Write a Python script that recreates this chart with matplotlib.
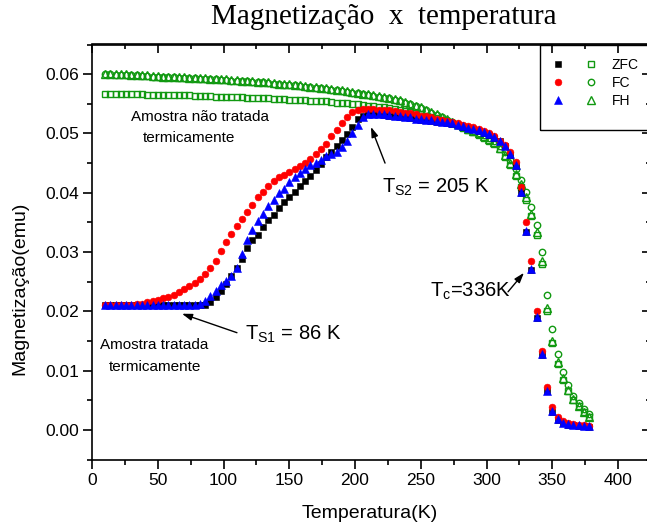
import matplotlib
matplotlib.use('Agg')
import matplotlib.pyplot as plt
from matplotlib.legend_handler import HandlerTuple
from matplotlib.patches import Rectangle
from matplotlib.ticker import MultipleLocator

plt.rcParams['font.family'] = ['Liberation Sans', 'DejaVu Sans']
plt.rcParams['mathtext.fontset'] = 'custom'
plt.rcParams['mathtext.rm'] = 'Liberation Sans'
plt.rcParams['mathtext.it'] = 'Liberation Sans:italic'
plt.rcParams['mathtext.bf'] = 'Liberation Sans:bold'

# ---------------- data ----------------
temperature = [10, 14, 18, 22, 26, 30, 34, 38, 42, 46,
               50, 54, 58, 62, 66, 70, 74, 78, 82, 86,
               90, 94, 98, 102, 106, 110, 114, 118, 122, 126,
               130, 134, 138, 142, 146, 150, 154, 158, 162, 166,
               170, 174, 178, 182, 186, 190, 194, 198, 202, 206,
               210, 214, 218, 222, 226, 230, 234, 238, 242, 246,
               250, 254, 258, 262, 266, 270, 274, 278, 282, 286,
               290, 294, 298, 302, 306, 310, 314, 318, 322, 326,
               330, 334, 338, 342, 346, 350, 354, 358, 362, 366,
               370, 374, 378]

# treated sample (filled symbols)
zfc_treated = [0.0210, 0.0210, 0.0210, 0.0210, 0.0210, 0.0210, 0.0210, 0.0210, 0.0210, 0.0210,
               0.0210, 0.0210, 0.0210, 0.0210, 0.0210, 0.0210, 0.0210, 0.0210, 0.0210, 0.0211,
               0.0215, 0.0224, 0.0234, 0.0246, 0.0260, 0.0273, 0.0288, 0.0306, 0.0321, 0.0329,
               0.0342, 0.0354, 0.0362, 0.0374, 0.0384, 0.0392, 0.0402, 0.0412, 0.0420, 0.0428,
               0.0438, 0.0449, 0.0460, 0.0469, 0.0479, 0.0489, 0.0499, 0.0511, 0.0524, 0.0530,
               0.0532, 0.0532, 0.0532, 0.0531, 0.0530, 0.0529, 0.0528, 0.0527, 0.0526, 0.0524,
               0.0523, 0.0522, 0.0521, 0.0520, 0.0519, 0.0518, 0.0516, 0.0514, 0.0511, 0.0509,
               0.0507, 0.0504, 0.0501, 0.0498, 0.0493, 0.0487, 0.0478, 0.0464, 0.0445, 0.0400,
               0.0333, 0.0270, 0.0188, 0.0126, 0.0065, 0.0031, 0.0017, 0.0011, 0.0009, 0.0008,
               0.0007, 0.0006, 0.0005]

fc_treated = [0.0210, 0.0210, 0.0210, 0.0210, 0.0211, 0.0211, 0.0212, 0.0213, 0.0215, 0.0217,
              0.0219, 0.0222, 0.0225, 0.0228, 0.0232, 0.0237, 0.0242, 0.0248, 0.0255, 0.0263,
              0.0273, 0.0285, 0.0301, 0.0317, 0.0331, 0.0344, 0.0355, 0.0368, 0.0380, 0.0393,
              0.0402, 0.0411, 0.0420, 0.0426, 0.0430, 0.0435, 0.0440, 0.0445, 0.0450, 0.0457,
              0.0466, 0.0474, 0.0482, 0.0495, 0.0506, 0.0518, 0.0528, 0.0536, 0.0540, 0.0541,
              0.0541, 0.0541, 0.0540, 0.0540, 0.0539, 0.0538, 0.0537, 0.0535, 0.0534, 0.0532,
              0.0530, 0.0529, 0.0527, 0.0525, 0.0523, 0.0521, 0.0519, 0.0517, 0.0515, 0.0513,
              0.0511, 0.0508, 0.0504, 0.0500, 0.0495, 0.0488, 0.0480, 0.0468, 0.0452, 0.0410,
              0.0350, 0.0285, 0.0200, 0.0133, 0.0072, 0.0038, 0.0022, 0.0015, 0.0012, 0.0010,
              0.0009, 0.0008, 0.0007]

fh_treated = [0.0210, 0.0210, 0.0210, 0.0210, 0.0210, 0.0210, 0.0210, 0.0210, 0.0210, 0.0210,
              0.0210, 0.0210, 0.0210, 0.0210, 0.0210, 0.0210, 0.0210, 0.0211, 0.0213, 0.0218,
              0.0226, 0.0234, 0.0244, 0.0252, 0.0260, 0.0273, 0.0297, 0.0320, 0.0337, 0.0352,
              0.0364, 0.0377, 0.0388, 0.0399, 0.0407, 0.0418, 0.0427, 0.0434, 0.0440, 0.0446,
              0.0450, 0.0456, 0.0462, 0.0465, 0.0469, 0.0477, 0.0487, 0.0500, 0.0514, 0.0528,
              0.0532, 0.0533, 0.0533, 0.0532, 0.0531, 0.0530, 0.0529, 0.0528, 0.0527, 0.0525,
              0.0524, 0.0523, 0.0522, 0.0521, 0.0520, 0.0519, 0.0517, 0.0515, 0.0512, 0.0510,
              0.0508, 0.0505, 0.0502, 0.0499, 0.0494, 0.0488, 0.0479, 0.0465, 0.0446, 0.0402,
              0.0335, 0.0272, 0.0190, 0.0128, 0.0066, 0.0032, 0.0018, 0.0012, 0.0010, 0.0009,
              0.0008, 0.0007, 0.0006]

# untreated sample (open symbols)
zfc_untreated = [0.0567, 0.0567, 0.0567, 0.0566, 0.0566, 0.0566, 0.0566, 0.0566, 0.0565, 0.0565,
                 0.0565, 0.0565, 0.0565, 0.0564, 0.0564, 0.0564, 0.0564, 0.0563, 0.0563, 0.0563,
                 0.0563, 0.0562, 0.0562, 0.0562, 0.0561, 0.0561, 0.0561, 0.0560, 0.0560, 0.0560,
                 0.0559, 0.0559, 0.0558, 0.0558, 0.0558, 0.0557, 0.0557, 0.0556, 0.0556, 0.0555,
                 0.0555, 0.0554, 0.0554, 0.0553, 0.0552, 0.0552, 0.0551, 0.0550, 0.0549, 0.0548,
                 0.0547, 0.0546, 0.0545, 0.0544, 0.0543, 0.0541, 0.0540, 0.0538, 0.0536, 0.0534,
                 0.0532, 0.0530, 0.0528, 0.0526, 0.0523, 0.0520, 0.0517, 0.0514, 0.0510, 0.0506,
                 0.0502, 0.0498, 0.0493, 0.0488, 0.0482, 0.0473, 0.0460, 0.0446, 0.0428, 0.0410,
                 0.0388, 0.0360, 0.0328, 0.0280, 0.0200, 0.0146, 0.0112, 0.0085, 0.0066, 0.0051,
                 0.0040, 0.0030, 0.0021]

fc_untreated = [0.0600, 0.0600, 0.0599, 0.0599, 0.0599, 0.0598, 0.0598, 0.0597, 0.0597, 0.0596,
                0.0596, 0.0595, 0.0595, 0.0595, 0.0594, 0.0594, 0.0593, 0.0593, 0.0592, 0.0592,
                0.0591, 0.0591, 0.0590, 0.0590, 0.0589, 0.0589, 0.0588, 0.0588, 0.0587, 0.0586,
                0.0586, 0.0585, 0.0584, 0.0583, 0.0582, 0.0582, 0.0581, 0.0580, 0.0579, 0.0578,
                0.0577, 0.0576, 0.0575, 0.0574, 0.0573, 0.0572, 0.0570, 0.0569, 0.0568, 0.0566,
                0.0565, 0.0563, 0.0562, 0.0560, 0.0559, 0.0557, 0.0555, 0.0552, 0.0549, 0.0546,
                0.0543, 0.0539, 0.0535, 0.0531, 0.0527, 0.0523, 0.0519, 0.0515, 0.0511, 0.0507,
                0.0504, 0.0501, 0.0497, 0.0493, 0.0487, 0.0479, 0.0468, 0.0455, 0.0440, 0.0422,
                0.0402, 0.0376, 0.0346, 0.0300, 0.0228, 0.0170, 0.0128, 0.0097, 0.0075, 0.0058,
                0.0046, 0.0036, 0.0027]

fh_untreated = [0.0601, 0.0601, 0.0600, 0.0600, 0.0600, 0.0599, 0.0599, 0.0598, 0.0598, 0.0597,
                0.0597, 0.0596, 0.0596, 0.0596, 0.0595, 0.0595, 0.0594, 0.0594, 0.0593, 0.0593,
                0.0592, 0.0592, 0.0591, 0.0591, 0.0590, 0.0590, 0.0589, 0.0589, 0.0588, 0.0587,
                0.0587, 0.0586, 0.0585, 0.0584, 0.0583, 0.0583, 0.0582, 0.0581, 0.0580, 0.0579,
                0.0578, 0.0577, 0.0576, 0.0575, 0.0574, 0.0573, 0.0571, 0.0570, 0.0569, 0.0567,
                0.0566, 0.0564, 0.0563, 0.0561, 0.0560, 0.0558, 0.0556, 0.0553, 0.0550, 0.0547,
                0.0544, 0.0540, 0.0536, 0.0532, 0.0528, 0.0524, 0.0520, 0.0516, 0.0512, 0.0508,
                0.0504, 0.0500, 0.0496, 0.0491, 0.0485, 0.0476, 0.0463, 0.0450, 0.0432, 0.0414,
                0.0392, 0.0365, 0.0333, 0.0285, 0.0205, 0.0150, 0.0115, 0.0088, 0.0068, 0.0053,
                0.0041, 0.0031, 0.0022]

series_labels = ['ZFC', 'FC', 'FH']
x_ticks = [0, 50, 100, 150, 200, 250, 300, 350, 400]
y_ticks = [0.00, 0.01, 0.02, 0.03, 0.04, 0.05, 0.06]

# ---------------- figure ----------------
W, H = 647, 529
fig = plt.figure(figsize=(W / 100, H / 100), dpi=100)
ax = fig.add_axes([92 / W, (H - 459.6) / H, 559 / W, 415.1 / H])

green = '#119911'
ms_f = 4.6
h_k, = ax.plot(temperature, zfc_treated, 's', color='black', ms=ms_f, mew=0.4, zorder=3)
h_r, = ax.plot(temperature, fc_treated, 'o', color='#ff0000', ms=ms_f + 0.3, mew=0.4, zorder=3)
h_b, = ax.plot(temperature, fh_treated, '^', color='#0000ff', ms=ms_f + 0.6, mew=0.4, zorder=3)
h_gs, = ax.plot(temperature, zfc_untreated, 's', mfc='none', mec=green, ms=4.6, mew=1.0, zorder=2)
h_go, = ax.plot(temperature, fc_untreated, 'o', mfc='none', mec=green, ms=4.6, mew=1.0, zorder=2)
h_gt, = ax.plot(temperature, fh_untreated, '^', mfc='none', mec=green, ms=5.2, mew=1.0, zorder=2)

ax.set_xlim(0, 425)
ax.set_ylim(-0.005, 0.065)
ax.set_xticks(x_ticks)
ax.set_yticks(y_ticks)
ax.set_xticklabels([str(v) for v in x_ticks])
ax.set_yticklabels(['%.2f' % v for v in y_ticks])
ax.xaxis.set_minor_locator(MultipleLocator(25))
ax.yaxis.set_minor_locator(MultipleLocator(0.005))
ax.tick_params(which='both', direction='out', width=1.2, labelsize=12.5, pad=3,
               top=False, right=False)
ax.tick_params(which='major', length=6.5)
ax.tick_params(which='minor', length=3.5)
for sp in ax.spines.values():
    sp.set_linewidth(1.2)

# inward ticks on top / right
secx = ax.secondary_xaxis('top')
secx.set_xticks(x_ticks)
secx.xaxis.set_minor_locator(MultipleLocator(25))
secx.tick_params(which='both', direction='in', labeltop=False, width=1.2)
secx.tick_params(which='major', length=6.5)
secx.tick_params(which='minor', length=3.5)
secx.spines['top'].set_linewidth(1.2)
secy = ax.secondary_yaxis('right')
secy.set_yticks(y_ticks)
secy.yaxis.set_minor_locator(MultipleLocator(0.005))
secy.tick_params(which='both', direction='in', labelright=False, width=1.2)
secy.tick_params(which='major', length=6.5)
secy.tick_params(which='minor', length=3.5)
secy.spines['right'].set_linewidth(1.2)

# legend box + legend
ax.add_patch(Rectangle((0.8014, 0.794), 0.1986, 0.206, transform=ax.transAxes,
                       fill=False, edgecolor='black', lw=1.0, clip_on=False, zorder=5))
ax.legend(handles=[(h_k, h_gs), (h_r, h_go), (h_b, h_gt)], labels=series_labels,
          handler_map={tuple: HandlerTuple(ndivide=None, pad=1.37)},
          handlelength=3.38, handletextpad=1.0, borderpad=0.8, labelspacing=0.28,
          frameon=False, fontsize=10, loc='upper left',
          bbox_to_anchor=(533 / W, 1 - 40 / H), bbox_transform=fig.transFigure)

# labels and title
fig.text(384 / W, 1 - 24 / H, 'Magnetização  x  temperatura', family='Liberation Serif',
         fontsize=21, ha='center', va='baseline')
fig.text(20 / W, 1 - 288 / H, 'Magnetização(emu)', rotation=90, ha='center', va='center',
         fontsize=14)
fig.text(370 / W, 1 - 514 / H, 'Temperatura(K)', ha='center', va='center', fontsize=14)

# annotations
ax.text(82.1, 0.0528, 'Amostra não tratada', ha='center', va='center', fontsize=11)
ax.text(73.4, 0.0493, 'termicamente', ha='center', va='center', fontsize=11)
ax.text(47.5, 0.0143, 'Amostra tratada', ha='center', va='center', fontsize=11)
ax.text(47.9, 0.0106, 'termicamente', ha='center', va='center', fontsize=11)

arrow = dict(arrowstyle='-|>,head_length=0.6,head_width=0.2', color='black', lw=1.0,
             shrinkA=0, shrinkB=0)
ax.annotate('', xy=(68.4, 0.0196), xytext=(110.2, 0.0164), arrowprops=arrow)
ax.annotate('', xy=(212.1, 0.0511), xytext=(222.8, 0.0450), arrowprops=arrow)
ax.annotate('', xy=(328.4, 0.0265), xytext=(316.3, 0.0233), arrowprops=arrow)

ax.text(116.3, 0.0152, r'T$_{\mathrm{S1}}$ = 86 K', ha='left', va='baseline', fontsize=14.5)
ax.text(220.5, 0.0400, r'T$_{\mathrm{S2}}$ = 205 K', ha='left', va='baseline', fontsize=14.5)
ax.text(257.0, 0.0224, r'T$_{\mathrm{c}}$=336K', ha='left', va='baseline', fontsize=14.5)

fig.savefig('out.png', dpi=100)
